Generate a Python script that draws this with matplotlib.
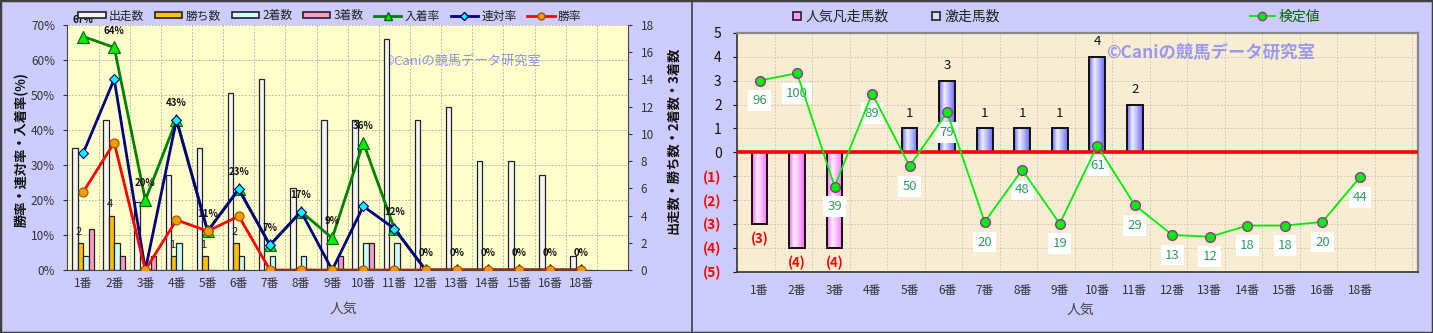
import numpy as np
import matplotlib
matplotlib.use('Agg')
import matplotlib.pyplot as plt
import matplotlib.transforms as mtransforms
from matplotlib.patches import Patch, Rectangle
from matplotlib.lines import Line2D
from matplotlib.colors import LinearSegmentedColormap
from matplotlib.ticker import FuncFormatter

plt.rcParams['font.family'] = ['Noto Sans CJK JP', 'DejaVu Sans']

# ---- data ----
ninki = ['1番', '2番', '3番', '4番', '5番', '6番', '7番', '8番', '9番', '10番',
         '11番', '12番', '13番', '14番', '15番', '16番', '18番']

# 左: 出走数・着順 (本数)
shusso = [9, 11, 5, 7, 9, 13, 14, 6, 11, 11, 17, 11, 12, 8, 8, 7, 1]
kachi = [2, 4, 0, 1, 1, 2, 0, 0, 0, 0, 0, 0, 0, 0, 0, 0, 0]
chaku2 = [1, 2, 0, 2, 0, 1, 1, 1, 0, 2, 2, 0, 0, 0, 0, 0, 0]
chaku3 = [3, 1, 1, 0, 0, 0, 0, 0, 1, 2, 0, 0, 0, 0, 0, 0, 0]

# 左: 率 (%)
nyuchaku = [66.7, 63.6, 20.0, 42.9, 11.1, 23.1, 7.1, 16.7, 9.1, 36.4, 11.8, 0, 0, 0, 0, 0, 0]
rentai = [33.3, 54.5, 0, 42.9, 11.1, 23.1, 7.1, 16.7, 0, 18.2, 11.8, 0, 0, 0, 0, 0, 0]
shoritsu = [22.2, 36.4, 0, 14.3, 11.1, 15.4, 0, 0, 0, 0, 0, 0, 0, 0, 0, 0, 0]

# 右: 凡走・激走・検定値
bonsou = [-3, -4, -4, 0, 0, 0, 0, 0, 0, 0, 0, 0, 0, 0, 0, 0, 0]
gekisou = [0, 0, 0, 0, 1, 3, 1, 1, 1, 4, 2, 0, 0, 0, 0, 0, 0]
kentei = [96, 100, 39, 89, 50, 79, 20, 48, 19, 61, 29, 13, 12, 18, 18, 20, 44]

BG = '#CCCCFF'
W, H = 1433, 333


def fx(px):
    return px / W


def fy(py):
    return 1 - py / H


def gradient_bars(ax, bars, colors, z=2.1):
    # barの中に横方向グラデーションを貼る
    cmap = LinearSegmentedColormap.from_list('g', colors)
    grad = np.linspace(0, 1, 64).reshape(1, -1)
    for b in bars:
        if b.get_height() == 0:
            continue
        x0, y0 = b.get_xy()
        w, h = b.get_width(), b.get_height()
        im = ax.imshow(grad, extent=[x0, x0 + w, y0, y0 + h], aspect='auto',
                       cmap=cmap, zorder=z, interpolation='bicubic')
        im.set_clip_path(b)
        b.set_facecolor('none')
        b.set_zorder(z + 0.05)


fig = plt.figure(figsize=(W / 100, H / 100), dpi=100)
fig.patch.set_facecolor(BG)

x = np.arange(len(ninki))

# ================= 左グラフ =================
axc = fig.add_axes([fx(67.5), fy(270), fx(628) - fx(67.5), fy(25) - fy(270)])
axc.set_facecolor('#FFFFCC')
axp = axc.twinx()

bw = 0.175
axc.bar(x - 1.5 * bw, shusso, bw, color='#F4F4F4', edgecolor='#222222', lw=0.9, zorder=2)
axc.bar(x - 0.5 * bw, kachi, bw, color='#FFC000', edgecolor='#222222', lw=0.9, zorder=2)
axc.bar(x + 0.5 * bw, chaku2, bw, color='#CCFFFF', edgecolor='#222222', lw=0.9, zorder=2)
axc.bar(x + 1.5 * bw, chaku3, bw, color='#FF99CC', edgecolor='#222222', lw=0.9, zorder=2)
for i, k in enumerate(kachi):
    if k:
        axc.annotate(str(k), (x[i] - 0.5 * bw, k), xytext=(-1, 8), textcoords='offset points',
                     ha='center', va='center', fontsize=8, color='#222222')

axc.set_xlim(-0.5, 17.5)
axc.set_ylim(0, 18)
axc.set_yticks(range(0, 19, 2))
axc.yaxis.tick_right()
axc.set_xticks(x)
axc.set_xticklabels(ninki)
axc.set_xticks(np.arange(0.5, 17.5, 1), minor=True)
axc.grid(which='minor', axis='x', color='#A8A8A8', ls=(0, (2, 2)), lw=0.6, zorder=0.5)
axc.tick_params(axis='x', which='both', length=0, labelsize=8.5, colors='#333333', pad=5)
axc.tick_params(axis='y', length=3, labelsize=8.5, colors='#333333', pad=6)

# 横グリッド(%軸に合わせる)
blend = mtransforms.blended_transform_factory(axc.transAxes, axp.transData)
for p in range(10, 80, 10):
    axc.plot([0, 1], [p, p], transform=blend, color='#A8A8A8', ls=(0, (2, 2)), lw=0.6, zorder=0.5)

axp.plot(x, nyuchaku, color='#008000', lw=2, marker='^', ms=8, mfc='#00EE00', mec='#006600', mew=0.8, zorder=3)
axp.plot(x, rentai, color='#000080', lw=2, marker='D', ms=5.5, mfc='#00FFFF', mec='#000080', mew=0.8, zorder=4)
axp.plot(x, shoritsu, color='#FF0000', lw=2, marker='o', ms=6.5, mfc='#FF9900', mec='#995500', mew=0.8, zorder=5)
for i, v in enumerate(nyuchaku):
    axp.annotate('%d%%' % round(v), (x[i], v), xytext=(0, 12), textcoords='offset points',
                 ha='center', va='center', fontsize=7, fontweight='bold', color='#111111')
axp.set_ylim(0, 70)
axp.set_yticks(range(0, 71, 10))
axp.yaxis.set_major_formatter(FuncFormatter(lambda v, p: '%d%%' % v))
axp.yaxis.tick_left()
axp.tick_params(axis='y', length=3, labelsize=8.5, colors='#333333', pad=6)

for s in ['top', 'left']:
    axc.spines[s].set_visible(False)
axc.spines['right'].set_color('#444444')
axc.spines['bottom'].set_color('#444444')
for s in ['top', 'right', 'bottom']:
    axp.spines[s].set_visible(False)
axp.spines['left'].set_color('#444444')

axc.text(0.563, 0.85, '©Caniの競馬データ研究室', transform=axc.transAxes, fontsize=9.5,
         color='#8E8EF0', va='center', ha='left', zorder=1)

fig.text(fx(22), fy(150), '勝率・連対率・入着率(%)', rotation=90, ha='center', va='center',
         fontsize=9.5, fontweight='bold', color='#111111')
fig.text(fx(673), fy(140), '出走数・勝ち数・2着数・3着数', rotation=90, ha='center', va='center',
         fontsize=9.5, fontweight='bold', color='#111111')
fig.text(fx(343), fy(309), '人気', ha='center', va='center', fontsize=10, color='#444444')

hl = [Patch(fc='#F4F4F4', ec='#222222', lw=1.2), Patch(fc='#FFC000', ec='#222222', lw=1.2),
      Patch(fc='#CCFFFF', ec='#222222', lw=1.2), Patch(fc='#FF99CC', ec='#222222', lw=1.2),
      Line2D([], [], color='#008000', lw=2, marker='^', ms=6, mfc='#00EE00', mec='#006600'),
      Line2D([], [], color='#000080', lw=2, marker='D', ms=4, mfc='#00FFFF', mec='#000080'),
      Line2D([], [], color='#FF0000', lw=2, marker='o', ms=5, mfc='#FF9900', mec='#995500')]
fig.legend(hl, ['出走数', '勝ち数', '2着数', '3着数', '入着率', '連対率', '勝率'],
           loc='center', bbox_to_anchor=(fx(330), fy(16)), ncol=7, frameon=False,
           fontsize=8.5, handlelength=2.3, handleheight=0.45, columnspacing=0.9,
           handletextpad=0.3, labelcolor='#222222')

# ================= 右グラフ =================
axr = fig.add_axes([fx(737), fy(271.7), fx(1417.7) - fx(737), fy(33) - fy(271.7)])
axr.set_facecolor('#F8ECD2')
bw2 = 0.42
b1 = axr.bar(x, bonsou, bw2, color='#FF88FF', edgecolor='#111111', lw=1.4, zorder=2)
b2 = axr.bar(x, gekisou, bw2, color='#8888FF', edgecolor='#111111', lw=1.4, zorder=2)
gradient_bars(axr, b1, ['#FF66FF', '#FFF0FF', '#FFB0FF', '#FF66FF'])
gradient_bars(axr, b2, ['#6666FF', '#F0F0FF', '#B0B0FF', '#6666FF'])
for i in range(len(x)):
    if bonsou[i]:
        axr.annotate('(%d)' % abs(bonsou[i]), (x[i], bonsou[i]), xytext=(0, -11),
                     textcoords='offset points', ha='center', va='center', fontsize=9.5,
                     color='#FF0000', fontweight='bold')
    if gekisou[i]:
        axr.annotate(str(gekisou[i]), (x[i], gekisou[i]), xytext=(0, 11),
                     textcoords='offset points', ha='center', va='center', fontsize=9.5,
                     color='#111111')
axr.axhline(0, color='#FF0000', lw=2.6, zorder=3)

axr.set_xlim(-0.6, 17.54)
axr.set_ylim(-5, 5)
axr.set_yticks(range(-5, 6))
axr.yaxis.set_major_formatter(FuncFormatter(lambda v, p: '(%d)' % abs(v) if v < 0 else '%d' % v))
axr.set_xticks(x)
axr.set_xticklabels(ninki)
axr.set_xticks(np.arange(0.4, 17.5, 1), minor=True)
axr.grid(which='minor', axis='x', color='#C8C0B0', ls=(0, (2, 2)), lw=0.6, zorder=0.5)
axr.grid(which='major', axis='y', color='#C8C0B0', ls=(0, (2, 2)), lw=0.6, zorder=0.5)
axr.set_axisbelow(True)
axr.tick_params(axis='x', which='both', length=0, labelsize=8.5, colors='#333333', pad=9)
axr.tick_params(axis='y', length=3, labelsize=10, colors='#111111', pad=8)
for t in axr.get_yticklabels():
    if t.get_text().startswith('('):
        t.set_color('#FF0000')
        t.set_fontweight('bold')
for s in ['top', 'right']:
    axr.spines[s].set_color('#888888')
    axr.spines[s].set_linewidth(1.6)
for s in ['left', 'bottom']:
    axr.spines[s].set_color('#333333')
    axr.spines[s].set_linewidth(1.2)

axk = axr.twinx()
axk.plot(x, kentei, color='#00EE00', lw=1.3, marker='o', ms=7, mfc='#00EE00', mec='#993399',
         mew=1.0, zorder=5)
for i, v in enumerate(kentei):
    axk.annotate(str(v), (x[i], v), xytext=(0, -14.5), textcoords='offset points', ha='center',
                 va='center', fontsize=9.5, color='#339966',
                 bbox=dict(boxstyle='square,pad=0.3', fc='white', ec='none'))
axk.set_ylim(-6.8, 121.6)
axk.axis('off')

axr.text(0.543, 0.918, '©Caniの競馬データ研究室', transform=axr.transAxes, fontsize=12.5,
         fontweight='bold', color='#9A9AEE', va='center', ha='left', zorder=1)

fig.text(fx(1080), fy(310), '人気', ha='center', va='center', fontsize=10, color='#444444')

hr = [Line2D([], [], ls='none', marker='s', ms=6, mfc='#FF99FF', mec='#222222', mew=1.2),
      Line2D([], [], ls='none', marker='s', ms=6, mfc='#DDDDFF', mec='#222222', mew=1.2)]
fig.legend(hr, ['人気凡走馬数', '激走馬数'], loc='center', bbox_to_anchor=(fx(896), fy(17)),
           ncol=2, frameon=False, fontsize=10, handlelength=0.8, handletextpad=0.2,
           columnspacing=3.0, labelcolor='#222222')
hk = [Line2D([], [], color='#00EE00', lw=1.3, marker='o', ms=6, mfc='#00EE00', mec='#993399')]
fig.legend(hk, ['検定値'], loc='center', bbox_to_anchor=(fx(1285), fy(17)), frameon=False,
           fontsize=10, handlelength=1.8, handletextpad=0.3, labelcolor='#006600')

# 枠線
fig.add_artist(Rectangle((0, 0), 1, 1, transform=fig.transFigure, fill=False, ec='#404040', lw=2.5))
fig.add_artist(Line2D([fx(692), fx(692)], [0, 1], transform=fig.transFigure, color='#404040', lw=1.2))

fig.savefig('out.png', dpi=100, facecolor=BG)
